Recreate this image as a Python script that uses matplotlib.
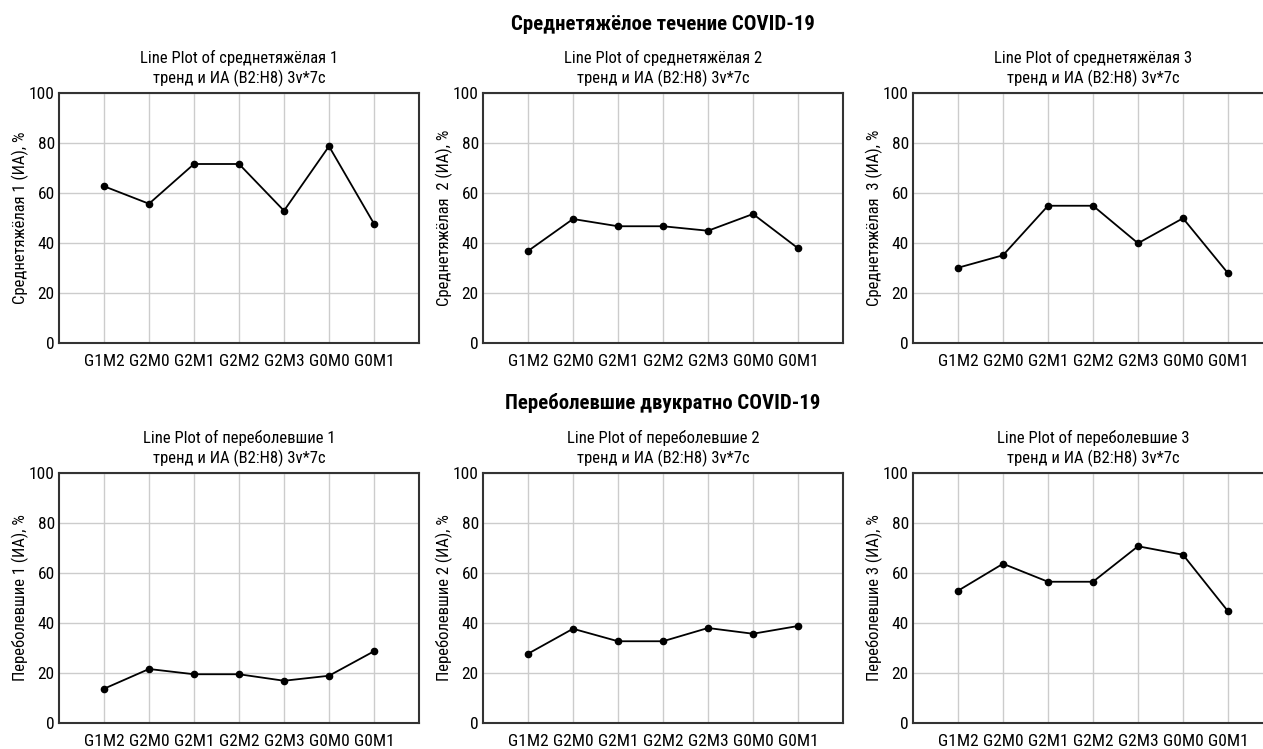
import matplotlib
matplotlib.use('Agg')
import matplotlib.pyplot as plt
from matplotlib import font_manager as fm

# узкий шрифт, если есть
available = {f.name for f in fm.fontManager.ttflist}
candidates = ['Roboto Condensed', 'PT Sans Narrow', 'Fira Sans Condensed',
              'Open Sans Condensed', 'Liberation Sans Narrow', 'Roboto']
main_font = next((c for c in candidates if c in available), 'DejaVu Sans')
plt.rcParams['font.family'] = [main_font, 'DejaVu Sans']

groups = ['G1M2', 'G2M0', 'G2M1', 'G2M2', 'G2M3', 'G0M0', 'G0M1']
yticks = [0, 20, 40, 60, 80, 100]

# среднетяжёлое течение
sred1 = [62.7, 55.7, 71.6, 71.6, 52.9, 78.7, 47.7]
sred2 = [36.8, 49.6, 46.7, 46.7, 44.9, 51.6, 37.9]
sred3 = [30.1, 35.1, 54.9, 54.9, 39.9, 49.9, 27.9]
# переболевшие двукратно
pereb1 = [13.7, 21.6, 19.5, 19.5, 16.9, 18.9, 28.7]
pereb2 = [27.7, 37.7, 32.7, 32.7, 38.0, 35.7, 38.8]
pereb3 = [52.9, 63.7, 56.5, 56.5, 70.7, 67.3, 44.7]

panels = [
    (sred1, 'среднетяжёлая 1', 'Среднетяжёлая 1 (ИА), %'),
    (sred2, 'среднетяжёлая 2', 'Среднетяжёлая  2 (ИА), %'),
    (sred3, 'среднетяжёлая 3', 'Среднетяжёлая  3 (ИА), %'),
    (pereb1, 'переболевшие 1', 'Переболевшие 1 (ИА), %'),
    (pereb2, 'переболевшие 2', 'Переболевшие 2 (ИА), %'),
    (pereb3, 'переболевшие 3', 'Переболевшие 3 (ИА), %'),
]

W, H = 1263, 749
fig = plt.figure(figsize=(W / 100, H / 100), dpi=100)

lefts = [59, 483, 913]
tops = [93, 473]
aw, ah = 360, 250

x = list(range(1, len(groups) + 1))
for i, (vals, name, ylab) in enumerate(panels):
    row, col = divmod(i, 3)
    ax = fig.add_axes([lefts[col] / W, 1 - (tops[row] + ah) / H, aw / W, ah / H])
    ax.plot(x, vals, color='black', lw=1.3, marker='o', ms=4.5)
    ax.set_xlim(0, 8)
    ax.set_ylim(0, 100)
    ax.set_xticks(x)
    ax.set_xticklabels(groups)
    ax.set_yticks(yticks)
    ax.grid(True, color='#cccccc', lw=1)
    ax.set_axisbelow(True)
    ax.tick_params(length=0, labelsize=12.5)
    ax.tick_params(axis='x', pad=8)
    ax.tick_params(axis='y', pad=3)
    for s in ax.spines.values():
        s.set_color('#333333')
        s.set_linewidth(1.5)
    ax.set_ylabel(ylab, fontsize=12, labelpad=0)
    ax.set_title('Line Plot of ' + name + '\nтренд и ИА (B2:H8) 3v*7c',
                 fontsize=12, pad=7, linespacing=1.3)

fig.text(663 / W, 1 - 25 / H, 'Среднетяжёлое течение COVID-19',
         ha='center', va='center', fontsize=15, fontweight='bold')
fig.text(663 / W, 1 - 403 / H, 'Переболевшие двукратно COVID-19',
         ha='center', va='center', fontsize=15, fontweight='bold')

fig.savefig('out.png', dpi=100)
